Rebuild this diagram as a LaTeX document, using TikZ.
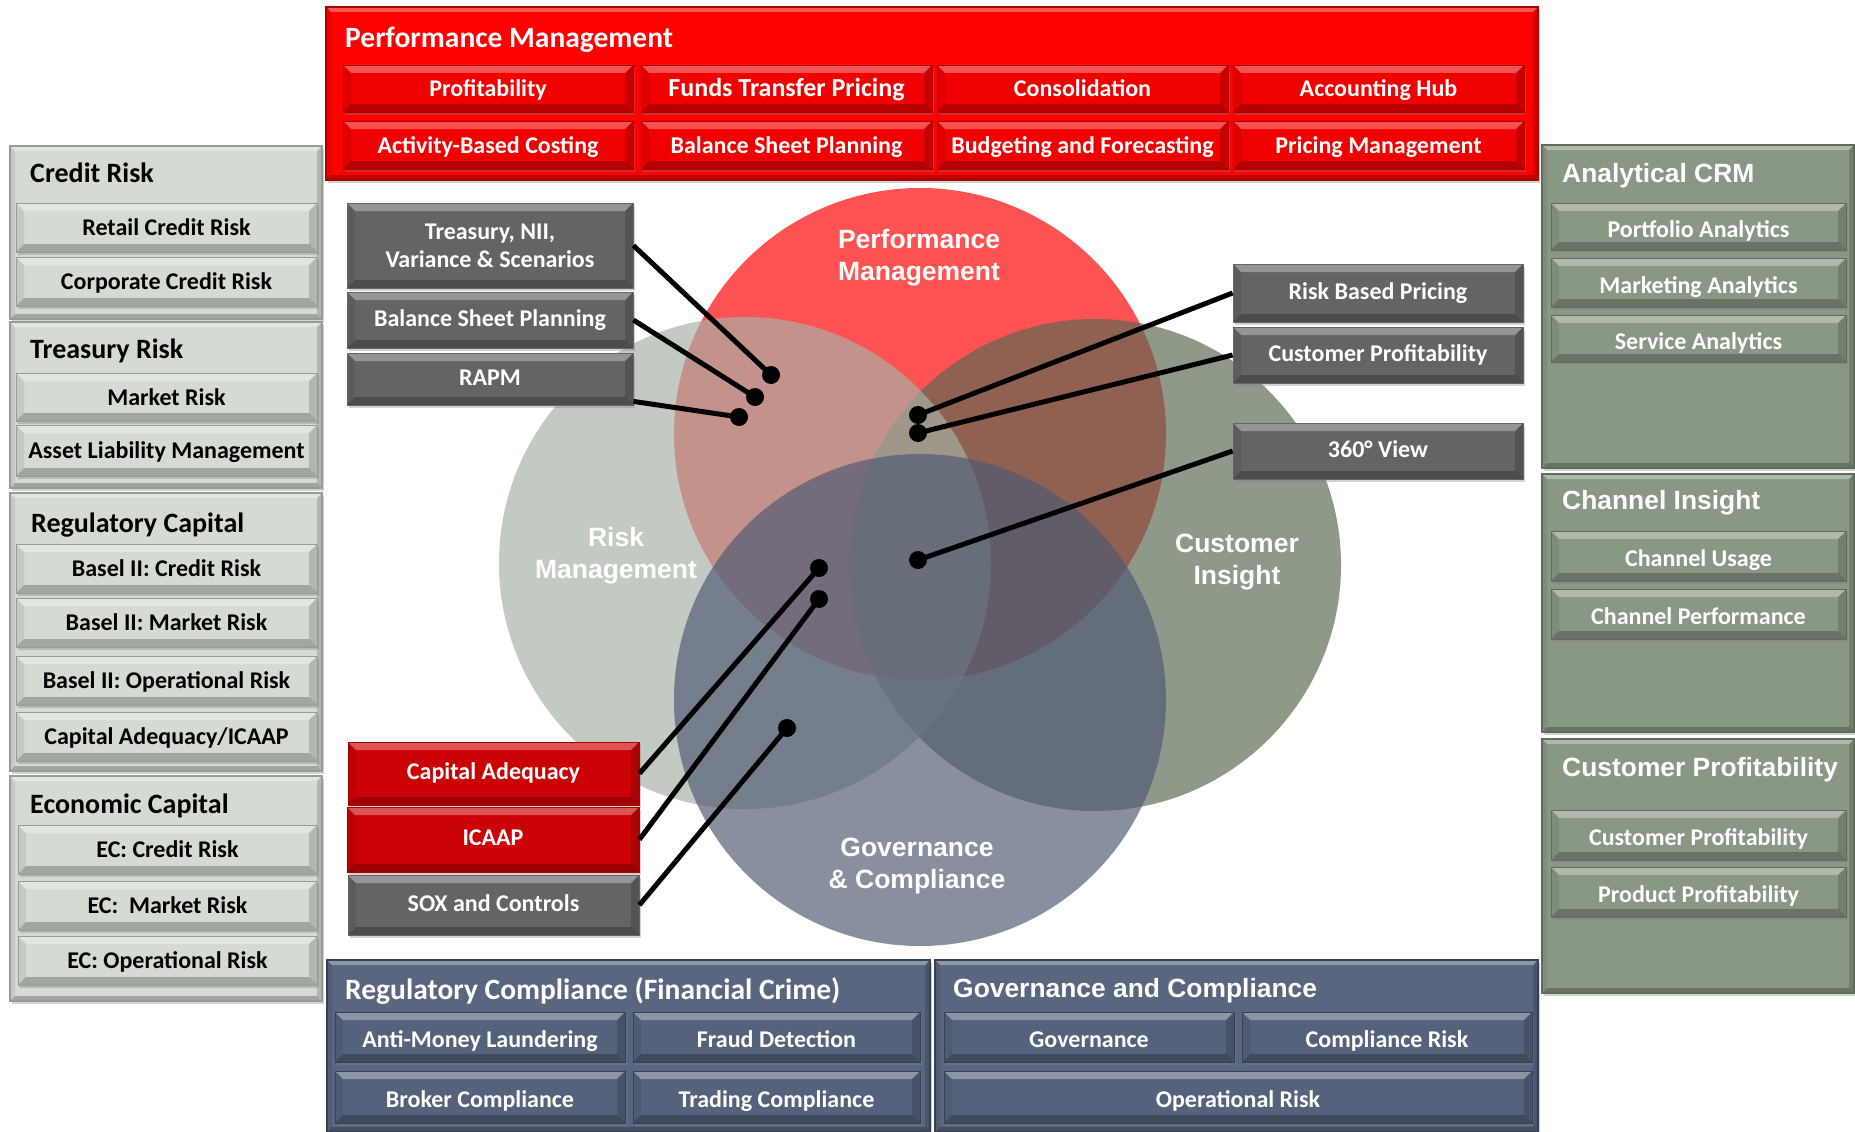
\documentclass[tikz,border=0pt]{standalone}
\usepackage{fontspec}
\setmainfont{Carlito}
\newfontfamily\arialfont{Liberation Sans}
\usetikzlibrary{shadows}

% panel and button colours
\definecolor{pmred}{RGB}{252,2,2}
\definecolor{pmbtn}{RGB}{240,0,0}
\definecolor{pmedge}{RGB}{170,0,0}
\definecolor{riskpanel}{RGB}{213,219,211}
\definecolor{riskedge}{RGB}{150,157,148}
\definecolor{custpanel}{RGB}{136,152,132}
\definecolor{custedge}{RGB}{95,108,92}
\definecolor{govpanel}{RGB}{90,102,128}
\definecolor{govbtn}{RGB}{86,98,123}
\definecolor{govedge}{RGB}{55,64,84}
\definecolor{callgray}{RGB}{100,100,100}
\definecolor{callred}{RGB}{204,3,6}
% Venn circle colours (drawn translucent)
\definecolor{vennred}{RGB}{255,0,0}
\definecolor{vennrisk}{RGB}{168,177,165}
\definecolor{venncust}{RGB}{89,105,84}
\definecolor{venngov}{RGB}{79,90,115}

\tikzset{
  bevel/.style={path picture={
    \fill[white,opacity=.32] (path picture bounding box.north west) -- (path picture bounding box.north east)
      -- ([xshift=-#1pt,yshift=-#1pt]path picture bounding box.north east)
      -- ([xshift=#1pt,yshift=-#1pt]path picture bounding box.north west) -- cycle;
    \fill[black,opacity=.24] (path picture bounding box.south west) -- (path picture bounding box.south east)
      -- ([xshift=-#1pt,yshift=#1pt]path picture bounding box.south east)
      -- ([xshift=#1pt,yshift=#1pt]path picture bounding box.south west) -- cycle;
    \fill[black,opacity=.07] (path picture bounding box.north west)
      -- ([xshift=#1pt,yshift=-#1pt]path picture bounding box.north west)
      -- ([xshift=#1pt,yshift=#1pt]path picture bounding box.south west)
      -- (path picture bounding box.south west) -- cycle;
    \fill[black,opacity=.16] (path picture bounding box.north east)
      -- ([xshift=-#1pt,yshift=-#1pt]path picture bounding box.north east)
      -- ([xshift=-#1pt,yshift=#1pt]path picture bounding box.south east)
      -- (path picture bounding box.south east) -- cycle;
  }},
  bevel/.default=8,
  softshadow/.style={drop shadow={shadow xshift=2pt,shadow yshift=-3pt,opacity=.35}},
  btnbase/.style={rectangle, inner sep=0pt, bevel=8, softshadow, line width=.8pt,
    font=\fontsize{24}{28}\selectfont\bfseries, text height=20pt, text depth=4pt},
  lightbtn/.style={btnbase, fill=riskpanel, draw=riskedge, text=black},
  greenbtn/.style={btnbase, fill=custpanel, draw=custedge, text=white, text height=25pt},
  redbtn/.style={btnbase, fill=pmbtn, draw=pmedge, text=white},
  slatebtn/.style={btnbase, fill=govbtn, draw=govedge, text=white, text height=24pt},
  graybox/.style={btnbase, fill=callgray, draw=black!60, text=white, text height=17pt, text depth=5pt},
  redbox/.style={btnbase, fill=callred, draw=pmedge, text=white, text height=17pt, text depth=5pt},
  panelbase/.style={rectangle, inner sep=0pt, bevel=5, softshadow, line width=1.2pt},
  lightpanel/.style={panelbase, fill=riskpanel, draw=riskedge},
  greenpanel/.style={panelbase, fill=custpanel, draw=custedge},
  redpanel/.style={panelbase, fill=pmred, draw=pmedge},
  slatepanel/.style={panelbase, fill=govpanel, draw=govedge},
  ctitle/.style={anchor=west, inner sep=0pt, font=\fontsize{28}{32}\selectfont\bfseries,
    text height=23pt, text depth=6pt},
  bigtitle/.style={ctitle, font=\fontsize{29.5}{34}\selectfont\bfseries, text=white},
  atitle/.style={anchor=west, inner sep=0pt, font=\arialfont\fontsize{26.4}{30}\selectfont\bfseries,
    text=white, text height=22pt, text depth=5pt},
  vennfill/.style={fill opacity=.68},
  vlabel/.style={font=\arialfont\fontsize{26.5}{32}\selectfont\bfseries, text=white, align=center},
  conn/.style={line width=5pt, draw=black},
  dot/.style={circle, fill=black, inner sep=0pt, minimum size=18pt},
}

% box from its corners: name, style, x1, y1, x2, y2, text
\newcommand\rectnode[7]{%
  \node[#2, minimum width={(#5)-(#3)}, minimum height={(#6)-(#4)}]
    (#1) at ({((#3)+(#5))/2},{((#4)+(#6))/2}) {#7};}

\begin{document}
\begin{tikzpicture}[x=1pt,y=-1pt]
\useasboundingbox (0,0) rectangle (1855,1132);
\fill[white] (0,0) rectangle (1855,1132);

% ---------------- Venn diagram ----------------
\fill[vennred,vennfill]  (920,434) circle [radius=246pt];
\fill[venncust,vennfill] (1095,565) circle [radius=246pt];
\fill[vennrisk,vennfill] (745,563) circle [radius=246pt];
\fill[venngov,vennfill]  (920,700) circle [radius=246pt];

\node[vlabel] (lpm) at (919,258) {Performance\\Management};
\node[vlabel] (lrm) at (616,556) {Risk\\Management};
\node[vlabel] (lci) at (1237,562) {Customer\\Insight};
\node[vlabel] (lgc) at (917,866) {Governance\\\& Compliance};

% ---------------- Performance Management (top) ----------------
\rectnode{pm}{redpanel}{326}{7}{1538}{180}{}
\node[bigtitle] (pmt) at (345,39) {Performance Management};
\rectnode{pm1}{redbtn}{343}{65}{633}{112}{Profitability}
\rectnode{pm2}{redbtn,font=\fontsize{26}{30}\selectfont\bfseries}{641}{65}{932}{112}{Funds Transfer Pricing}
\rectnode{pm3}{redbtn}{937}{65}{1228}{112}{Consolidation}
\rectnode{pm4}{redbtn}{1233}{65}{1524}{112}{Accounting Hub}
\rectnode{pm5}{redbtn}{343}{121}{633}{169}{Activity-Based Costing}
\rectnode{pm6}{redbtn}{641}{121}{932}{169}{Balance Sheet Planning}
\rectnode{pm7}{redbtn}{937}{121}{1228}{169}{Budgeting and Forecasting}
\rectnode{pm8}{redbtn}{1233}{121}{1524}{169}{Pricing Management}

% ---------------- Risk column (left) ----------------
\rectnode{cr}{lightpanel}{10}{146}{322}{319}{}
\node[ctitle] (crt) at (30,174) {Credit Risk};
\rectnode{cr1}{lightbtn}{16}{203}{317}{252}{Retail Credit Risk}
\rectnode{cr2}{lightbtn}{16}{257}{317}{306}{Corporate Credit Risk}

\rectnode{tr}{lightpanel}{10}{322}{322}{488}{}
\node[ctitle] (trt) at (30,350) {Treasury Risk};
\rectnode{tr1}{lightbtn}{16}{373}{317}{421}{Market Risk}
\rectnode{tr2}{lightbtn}{16}{425}{317}{476}{Asset Liability Management}

\rectnode{rc}{lightpanel}{10}{493}{322}{771}{}
\node[ctitle] (rct) at (31,524) {Regulatory Capital};
\rectnode{rc1}{lightbtn}{16}{544}{317}{593}{Basel II: Credit Risk}
\rectnode{rc2}{lightbtn}{16}{598}{317}{647}{Basel II: Market Risk}
\rectnode{rc3}{lightbtn}{16}{656}{317}{705}{Basel II: Operational Risk}
\rectnode{rc4}{lightbtn}{16}{712}{317}{761}{Capital Adequacy/ICAAP}

\rectnode{ec}{lightpanel}{10}{776}{322}{1001}{}
\node[ctitle] (ect) at (30,805) {Economic Capital};
\rectnode{ec1}{lightbtn}{18}{825}{317}{874}{EC: Credit Risk}
\rectnode{ec2}{lightbtn}{18}{881}{317}{930}{EC:\ \ Market Risk}
\rectnode{ec3}{lightbtn}{18}{936}{317}{985}{EC: Operational Risk}

% ---------------- Customer column (right) ----------------
\rectnode{ac}{greenpanel}{1542}{145}{1854}{468}{}
\node[atitle] (act) at (1562,174) {Analytical CRM};
\rectnode{ac1}{greenbtn}{1551}{203}{1846}{250}{Portfolio Analytics}
\rectnode{ac2}{greenbtn}{1551}{258}{1846}{307}{Marketing Analytics}
\rectnode{ac3}{greenbtn}{1551}{315}{1846}{362}{Service Analytics}

\rectnode{ci}{greenpanel}{1542}{474}{1854}{732}{}
\node[atitle] (cit) at (1562,501) {Channel Insight};
\rectnode{ci1}{greenbtn}{1551}{531}{1846}{581}{Channel Usage}
\rectnode{ci2}{greenbtn}{1551}{589}{1846}{639}{Channel Performance}

\rectnode{cpf}{greenpanel}{1542}{739}{1854}{993}{}
\node[atitle] (cpft) at (1562,768) {Customer Profitability};
\rectnode{cpf1}{greenbtn}{1551}{810}{1846}{860}{Customer Profitability}
\rectnode{cpf2}{greenbtn}{1551}{867}{1846}{917}{Product Profitability}

% ---------------- Compliance (bottom) ----------------
\rectnode{fc}{slatepanel}{327}{960}{930}{1132}{}
\node[bigtitle] (fct) at (345,991) {Regulatory Compliance (Financial Crime)};
\rectnode{fc1}{slatebtn}{335}{1012}{625}{1062}{Anti-Money Laundering}
\rectnode{fc2}{slatebtn}{633}{1012}{920}{1062}{Fraud Detection}
\rectnode{fc3}{slatebtn}{335}{1071}{625}{1123}{Broker Compliance}
\rectnode{fc4}{slatebtn}{633}{1071}{920}{1123}{Trading Compliance}

\rectnode{gc}{slatepanel}{935}{960}{1538}{1132}{}
\node[atitle] (gct) at (953,989) {Governance and Compliance};
\rectnode{gc1}{slatebtn}{944}{1012}{1234}{1062}{Governance}
\rectnode{gc2}{slatebtn}{1242}{1012}{1532}{1062}{Compliance Risk}
\rectnode{gc3}{slatebtn}{944}{1071}{1532}{1123}{Operational Risk}

% ---------------- Callouts into the Venn diagram ----------------
\rectnode{tb}{graybox,align=center,text height={},text depth={},font=\fontsize{24}{28}\selectfont\bfseries}{347}{203}{633}{288}{Treasury, NII,\\Variance \& Scenarios}
\rectnode{bsp}{graybox}{347}{292}{633}{348}{Balance Sheet Planning}
\rectnode{rapm}{graybox}{347}{353}{633}{405}{RAPM}
\rectnode{rbp}{graybox}{1233}{264}{1523}{322}{Risk Based Pricing}
\rectnode{cup}{graybox}{1233}{327}{1523}{383}{Customer Profitability}
\rectnode{v360}{graybox}{1233}{423}{1523}{479}{360° View}
\rectnode{ca}{redbox}{348}{742}{639}{805}{Capital Adequacy}
\rectnode{icaap}{redbox}{347}{807}{639}{872}{ICAAP}
\rectnode{sox}{graybox}{348}{875}{639}{935}{SOX and Controls}

\node[dot] (d1) at (771,375) {};
\node[dot] (d2) at (755,397) {};
\node[dot] (d3) at (739,417) {};
\node[dot] (d4) at (918,415) {};
\node[dot] (d5) at (918,433) {};
\node[dot] (d6) at (918,560) {};
\node[dot] (d7) at (819,568) {};
\node[dot] (d8) at (819,599) {};
\node[dot] (d9) at (787,728) {};

\draw[conn] (tb.east) -- (d1.center);
\draw[conn] (bsp.east) -- (d2.center);
\draw[conn] ([yshift=4pt]rapm.south east) -- (d3.center);
\draw[conn] (rbp.west) -- (d4.center);
\draw[conn] (cup.west) -- (d5.center);
\draw[conn] (v360.west) -- (d6.center);
\draw[conn] (ca.east) -- (d7.center);
\draw[conn] (icaap.east) -- (d8.center);
\draw[conn] (sox.east) -- (d9.center);
\end{tikzpicture}
\end{document}
